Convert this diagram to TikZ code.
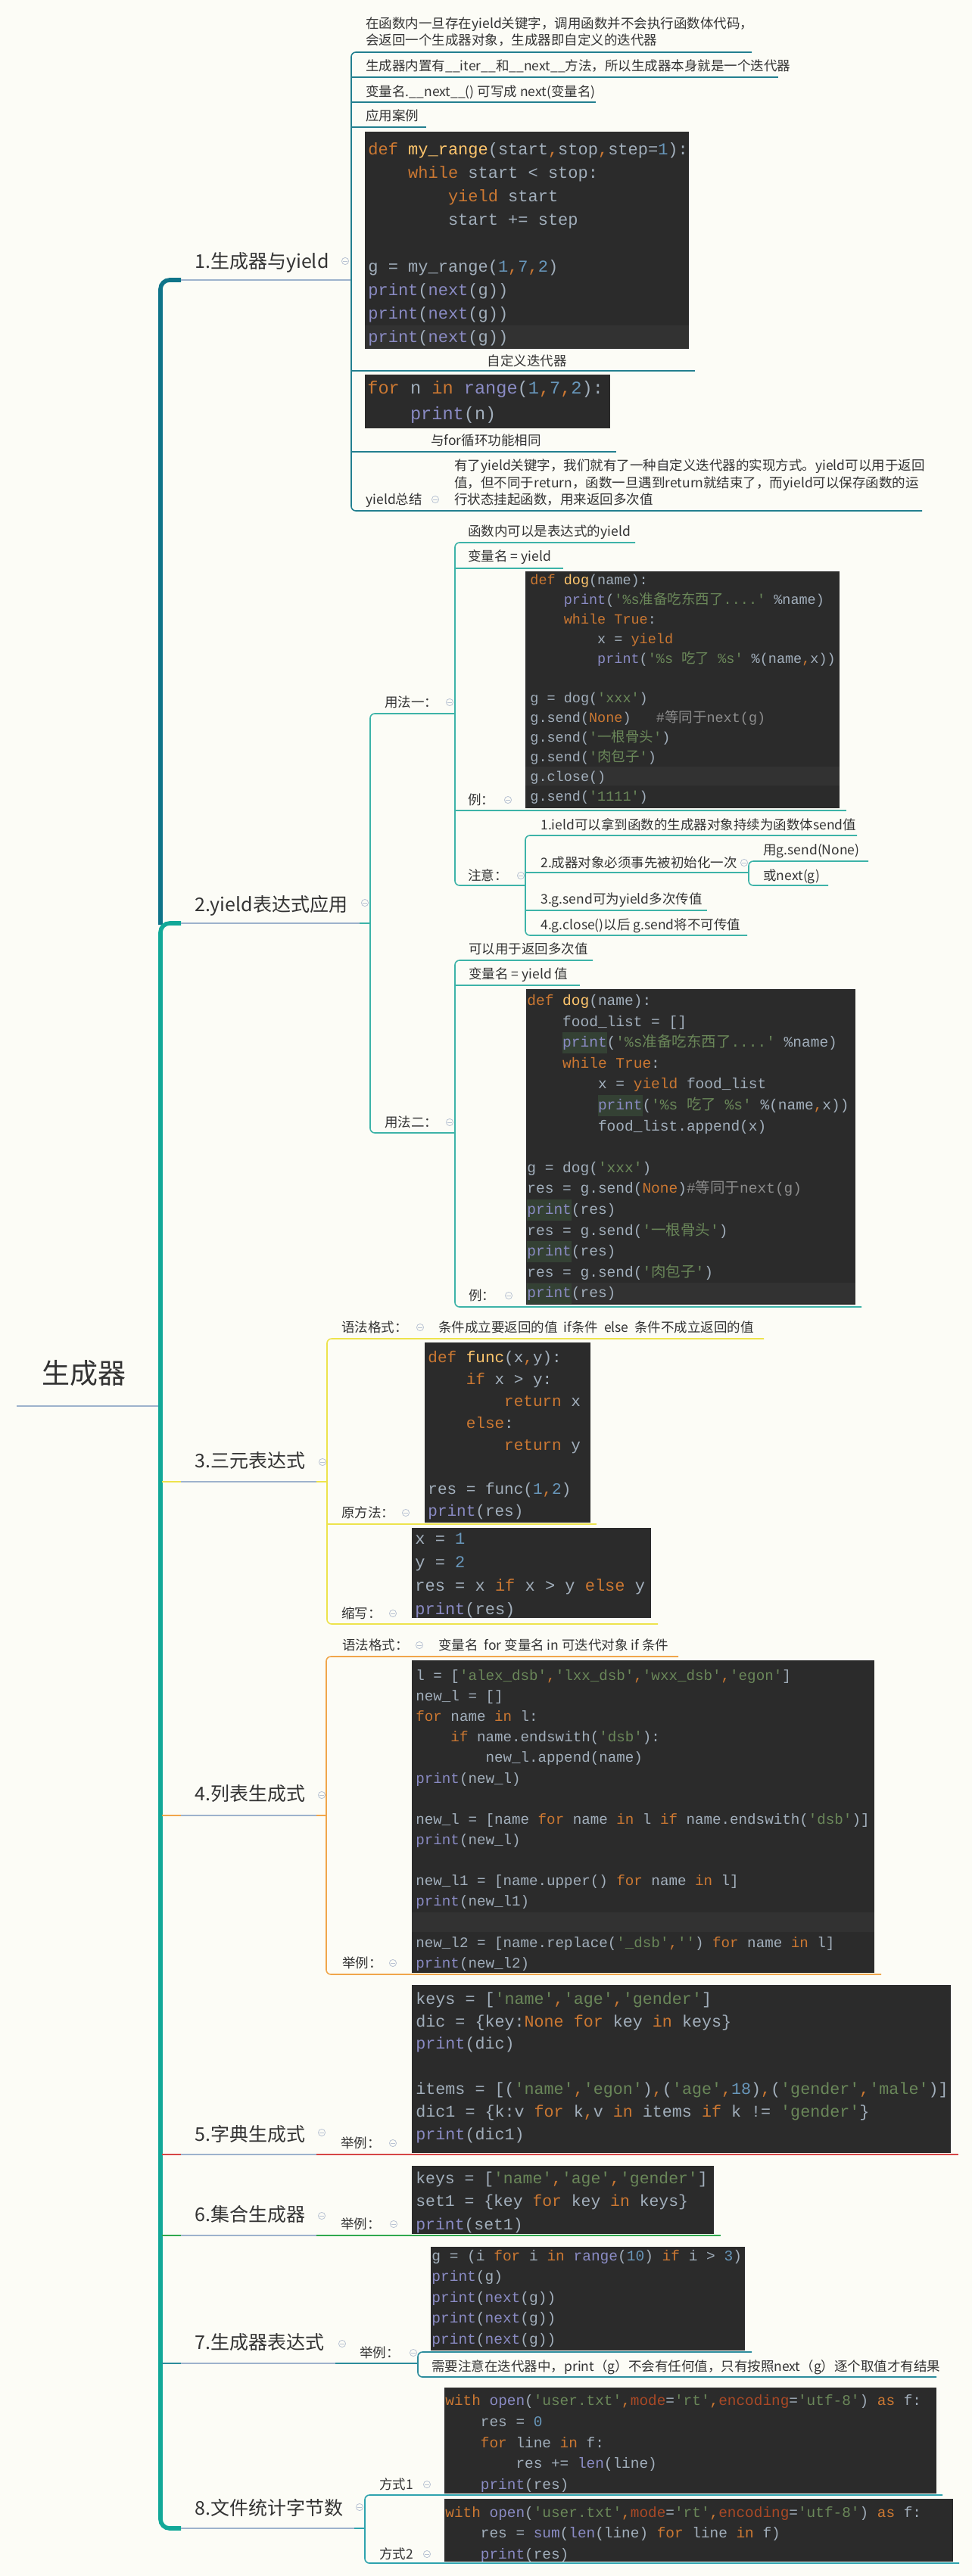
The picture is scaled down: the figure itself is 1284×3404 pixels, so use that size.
\documentclass[tikz,border=0pt]{standalone}
\usepackage{fontspec}
\setmainfont{Noto Sans CJK SC}
\newfontfamily\codefont[Ligatures=TeXOff]{Liberation Mono}
\frenchspacing
\definecolor{bgc}{HTML}{FCFCF6}
\definecolor{tcol}{HTML}{333333}
\definecolor{gray1}{HTML}{9DB2CC}
\definecolor{trA}{HTML}{0F7489}
\definecolor{trB}{HTML}{12A898}
\definecolor{sA}{HTML}{237F8F}
\definecolor{sB}{HTML}{3DB3A8}
\definecolor{sC}{HTML}{EDE34C}
\definecolor{sD}{HTML}{F0A64B}
\definecolor{sE}{HTML}{D64545}
\definecolor{sF}{HTML}{2FA84F}
\definecolor{sG}{HTML}{2C8C9C}
\definecolor{sH}{HTML}{2EA3AE}
\definecolor{icoc}{HTML}{B9C3D3}
\definecolor{codebg}{HTML}{2B2B2B}
\definecolor{codehl}{HTML}{323232}
\definecolor{ctext}{HTML}{A2AFBC}
\definecolor{ckw}{HTML}{CC7832}
\definecolor{cfn}{HTML}{FFC66D}
\definecolor{cnu}{HTML}{6897BB}
\definecolor{cst}{HTML}{6A8759}
\definecolor{cbi}{HTML}{8A8BC4}
\definecolor{ccm}{HTML}{8C8C8C}
\definecolor{cka}{HTML}{AA4926}
\definecolor{hlg}{HTML}{344134}
\newcommand\xkw[1]{\textcolor{ckw}{#1}}
\newcommand\xfn[1]{\textcolor{cfn}{#1}}
\newcommand\xnu[1]{\textcolor{cnu}{#1}}
\newcommand\xst[1]{\textcolor{cst}{#1}}
\newcommand\xbi[1]{\textcolor{cbi}{#1}}
\newcommand\xcm[1]{\textcolor{ccm}{#1}}
\newcommand\xka[1]{\textcolor{cka}{#1}}
\newcommand\cma{\textcolor{ckw}{,}}
\newcommand\zh[1]{{\rmfamily #1}}
\newcommand\indA{\hspace*{2.4em}}
\newcommand\indB{\hspace*{4.8em}}
\newcommand\hlp[1]{{\setlength\fboxsep{0pt}\colorbox{hlg}{\strut\xbi{#1}}}}
\newcommand\spine[6]{\draw[#1,rounded corners=3pt] (#4,#3) -- (#2,#3) -- (#2,#5) -- (#6,#5);}
\newcommand\uln[4]{\draw[#1] (#2,#3) -- (#4,#3);}
\newcommand\cicon[2]{\draw[icoc,fill=bgc,line width=0.4pt] (#1,#2) circle[radius=2.3pt]; \draw[icoc,line width=0.4pt] (#1,#2) ++(-1.3pt,0) -- ++(2.6pt,0);}
\tikzset{
  txt/.style={anchor=base west, inner sep=0pt, text=tcol, font=\fontsize{8.75}{11}\selectfont},
  ctxt/.style={anchor=base, inner sep=0pt, text=tcol, font=\fontsize{8.75}{11}\selectfont},
  topic/.style={anchor=base west, inner sep=0pt, text=tcol, font=\fontsize{12.5}{15}\selectfont},
  rootn/.style={anchor=base west, inner sep=0pt, text=tcol, font=\fontsize{18.5}{22}\selectfont},
  codetxt/.style={anchor=north west, inner sep=0pt, align=left, text=ctext},
  lA/.style={draw=sA, line width=0.8pt},
  lB/.style={draw=sB, line width=0.8pt},
  lC/.style={draw=sC, line width=0.8pt},
  lD/.style={draw=sD, line width=0.8pt},
  lE/.style={draw=sE, line width=0.8pt},
  lF/.style={draw=sF, line width=0.8pt},
  lG/.style={draw=sG, line width=0.8pt},
  lH/.style={draw=sH, line width=0.8pt},
  lT/.style={draw=gray1, line width=1pt},
}
\begin{document}
\begin{tikzpicture}[x=0.5pt,y=-0.5pt]
\useasboundingbox (0,0) rectangle (1284,3404);
\fill[bgc] (0,0) rectangle (1284,3404);

% ---------------- trunk ----------------
\draw[gray1, line width=1pt] (22,1858) -- (212,1858);
\draw[trA, line width=2.8pt, rounded corners=6pt] (212,1222) -- (212,370) -- (239,370);
\draw[trB, line width=2.8pt, rounded corners=6pt] (239,1220) -- (212,1220) -- (212,3341) -- (239,3341);
\draw[sC, line width=1pt] (214,1958) -- (239,1958);
\draw[sD, line width=1pt] (214,2399) -- (239,2399);
\draw[sE, line width=1pt] (214,2847) -- (239,2847);
\draw[sF, line width=1pt] (214,2954) -- (239,2954);
\draw[sG, line width=1pt] (214,3123) -- (239,3123);

% topic underlines
\uln{lT}{239}{370}{464}
\uln{lT}{239}{1220}{475}
\uln{lT}{239}{1958}{418}
\uln{lT}{239}{2399}{418}
\uln{lT}{239}{2847}{418}
\uln{lT}{239}{2954}{418}
\uln{lT}{239}{3123}{443}
\uln{lT}{239}{3341}{468}

% root and topics
\node[rootn] (root) at (55,1828) {生成器};
\node[topic] (t1) at (257,354) {1.生成器与yield};
\node[topic] (t2) at (257,1204) {2.yield表达式应用};
\node[topic] (t3) at (257,1939) {3.三元表达式};
\node[topic] (t4) at (257,2379) {4.列表生成式};
\node[topic] (t5) at (257,2829) {5.字典生成式};
\node[topic] (t6) at (257,2935) {6.集合生成器};
\node[topic] (t7) at (257,3104) {7.生成器表达式};
\node[topic] (t8) at (257,3323) {8.文件统计字节数};

% ---------------- section 1 ----------------
\spine{lA}{464}{69}{993}{675}{1218}
\uln{lA}{464}{102}{1028}
\uln{lA}{464}{135}{787}
\uln{lA}{464}{168}{563}
\uln{lA}{464}{490}{918}
\uln{lA}{464}{597}{814}

\node[txt] (a1) at (483,38) {在函数内一旦存在yield关键字，调用函数并不会执行函数体代码，};
\node[txt] (a1b) at (483,60) {会返回一个生成器对象，生成器即自定义的迭代器};
\node[txt] (a2) at (483,94) {生成器内置有\_\_iter\_\_和\_\_next\_\_方法，所以生成器本身就是一个迭代器};
\node[txt] (a3) at (483,127) {变量名.\_\_next\_\_() 可写成 next(变量名)};
\node[txt] (a4) at (483,160) {应用案例};

\fill[codebg] (482,174) rectangle (910,461);
\fill[codehl] (482,430) rectangle (910,461);
\node[codetxt, font=\codefont\fontsize{11}{15.5}\selectfont] (code1) at (486,182.3) {\strut\xkw{def} \xfn{my\_range}(start\cma stop\cma step=\xnu{1}):\\
\indA\xkw{while} start < stop:\\
\indB\xkw{yield} start\\
\indB start += step\\
\mbox{}\\
g = my\_range(\xnu{1}\cma\xnu{7}\cma\xnu{2})\\
\xbi{print}(\xbi{next}(g))\\
\xbi{print}(\xbi{next}(g))\\
\xbi{print}(\xbi{next}(g))};
\node[ctxt] (cap1) at (696,483) {自定义迭代器};

\fill[codebg] (482,495) rectangle (806,566);
\node[codetxt, font=\codefont\fontsize{11.8}{17}\selectfont] (code2) at (485,496.2) {\strut\xkw{for} n \xkw{in} \xbi{range}(\xnu{1}\cma\xnu{7}\cma\xnu{2}):\\
\indA\xbi{print}(n)};
\node[ctxt] (cap2) at (642,588) {与for循环功能相同};

\node[txt] (a5) at (483,666) {yield总结};
\node[txt] (a5a) at (600,621) {有了yield关键字，我们就有了一种自定义迭代器的实现方式。yield可以用于返回};
\node[txt] (a5b) at (600,644) {值，但不同于return，函数一旦遇到return就结束了，而yield可以保存函数的运};
\node[txt] (a5c) at (600,666) {行状态挂起函数，用来返回多次值};

% ---------------- section 2 ----------------
\uln{lB}{475}{1220}{489}
\spine{lB}{489}{943}{601}{1497}{601}
\spine{lB}{601}{717}{839}{1170}{694}
\uln{lB}{601}{751}{744}
\uln{lB}{601}{1071}{1118}
\spine{lB}{694}{1104}{1132}{1236}{987}
\uln{lB}{694}{1153}{989}
\uln{lB}{694}{1203}{934}
\spine{lB}{989}{1138}{1147}{1170}{1094}
\spine{lB}{601}{1269}{783}{1727}{1138}
\uln{lB}{601}{1302}{766}

\node[txt] (b1) at (508,934) {用法一：};
\node[txt] (b2) at (618,708) {函数内可以是表达式的yield};
\node[txt] (b3) at (618,741) {变量名 = yield};
\node[txt] (b4) at (618,1063) {例：};
\node[txt] (b5) at (618,1163) {注意：};
\node[txt] (b6) at (714,1096) {1.ield可以拿到函数的生成器对象持续为函数体send值};
\node[txt] (b7) at (714,1146) {2.成器对象必须事先被初始化一次};
\node[txt] (b8) at (1008,1129) {用g.send(None)};
\node[txt] (b9) at (1008,1163) {或next(g)};
\node[txt] (b10) at (714,1194) {3.g.send可为yield多次传值};
\node[txt] (b11) at (714,1228) {4.g.close()以后 g.send将不可传值};
\node[txt] (b12) at (508,1489) {用法二：};
\node[txt] (b13) at (619,1260) {可以用于返回多次值};
\node[txt] (b14) at (619,1293) {变量名 = yield 值};
\node[txt] (b15) at (619,1718) {例：};

\fill[codebg] (694,755) rectangle (1109,1068);
\fill[codehl] (694,1013) rectangle (1109,1038);
\node[codetxt, font=\codefont\fontsize{9.25}{13}\selectfont] (code3) at (700,754.3) {\strut\xkw{def} \xfn{dog}(name):\\
\indA\xbi{print}(\xst{'\%s\zh{准备吃东西了}....'} \%name)\\
\indA\xkw{while} \xkw{True}:\\
\indB x = \xkw{yield}\\
\indB\xbi{print}(\xst{'\%s \zh{吃了} \%s'} \%(name\cma x))\\
\mbox{}\\
g = dog(\xst{'xxx'})\\
g.send(\xkw{None})~~~\xcm{\#\zh{等同于}next(g)}\\
g.send(\xst{'\zh{一根骨头}'})\\
g.send(\xst{'\zh{肉包子}'})\\
g.close()\\
g.send(\xst{'1111'})};

\fill[codebg] (695,1307) rectangle (1130,1724);
\fill[codehl] (695,1695) rectangle (1130,1722);
\node[codetxt, font=\codefont\fontsize{9.75}{13.8}\selectfont] (code4) at (696,1308.7) {\strut\xkw{def} \xfn{dog}(name):\\
\indA food\_list = []\\
\indA\hlp{print}(\xst{'\%s\zh{准备吃东西了}....'} \%name)\\
\indA\xkw{while} \xkw{True}:\\
\indB x = \xkw{yield} food\_list\\
\indB\hlp{print}(\xst{'\%s \zh{吃了} \%s'} \%(name\cma x))\\
\indB food\_list.append(x)\\
\mbox{}\\
g = dog(\xst{'xxx'})\\
res = g.send(\xkw{None})\xcm{\#\zh{等同于}next(g)}\\
\hlp{print}(res)\\
res = g.send(\xst{'\zh{一根骨头}'})\\
\hlp{print}(res)\\
res = g.send(\xst{'\zh{肉包子}'})\\
\hlp{print}(res)};

% ---------------- section 3 ----------------
\uln{lC}{418}{1958}{432}
\spine{lC}{432}{1769}{1009}{2146}{869}
\uln{lC}{432}{2014}{788}
\node[txt] (c1) at (451,1760) {语法格式：};
\node[txt] (c2) at (579,1760) {条件成立要返回的值\ \ if条件\ \ else\ \ 条件不成立返回的值};
\node[txt] (c3) at (451,2005) {原方法：};
\node[txt] (c4) at (451,2138) {缩写：};

\fill[codebg] (561,1774) rectangle (780,2012);
\node[codetxt, font=\codefont\fontsize{10.5}{14.5}\selectfont] (code5) at (565,1779.7) {\strut\xkw{def} \xfn{func}(x\cma y):\\
\indA\xkw{if} x > y:\\
\indB\xkw{return} x\\
\indA\xkw{else}:\\
\indB\xkw{return} y\\
\mbox{}\\
res = func(\xnu{1}\cma\xnu{2})\\
\xbi{print}(res)};

\fill[codebg] (544,2019) rectangle (860,2138);
\node[codetxt, font=\codefont\fontsize{11}{15.5}\selectfont] (code6) at (548,2018.3) {\strut x = \xnu{1}\\
y = \xnu{2}\\
res = x \xkw{if} x > y \xkw{else} y\\
\xbi{print}(res)};

% ---------------- section 4 ----------------
\uln{lD}{418}{2399}{431}
\spine{lD}{431}{2189}{896}{2609}{1164}
\node[txt] (d1) at (452,2180) {语法格式：};
\node[txt] (d2) at (579,2180) {变量名\ \ for 变量名 in 可迭代对象 if 条件};
\node[txt] (d3) at (452,2600) {举例：};

\fill[codebg] (544,2194) rectangle (1155,2607);
\fill[codehl] (544,2527) rectangle (1155,2553);
\node[codetxt, font=\codefont\fontsize{9.6}{13.57}\selectfont] (code7) at (549,2201) {\strut l = [\xst{'alex\_dsb'}\cma\xst{'lxx\_dsb'}\cma\xst{'wxx\_dsb'}\cma\xst{'egon'}]\\
new\_l = []\\
\xkw{for} name \xkw{in} l:\\
\indA\xkw{if} name.endswith(\xst{'dsb'}):\\
\indB new\_l.append(name)\\
\xbi{print}(new\_l)\\
\mbox{}\\
new\_l = [name \xkw{for} name \xkw{in} l \xkw{if} name.endswith(\xst{'dsb'})]\\
\xbi{print}(new\_l)\\
\mbox{}\\
new\_l1 = [name.upper() \xkw{for} name \xkw{in} l]\\
\xbi{print}(new\_l1)\\
\mbox{}\\
new\_l2 = [name.replace(\xst{'\_dsb'}\cma\xst{''}) \xkw{for} name \xkw{in} l]\\
\xbi{print}(new\_l2)};

% ---------------- section 5 ----------------
\uln{lE}{418}{2847}{1266}
\node[txt] (e1) at (450,2838) {举例：};
\fill[codebg] (544,2623) rectangle (1256,2845);
\node[codetxt, font=\codefont\fontsize{10.85}{14.9}\selectfont] (code8) at (549,2627.1) {\strut keys = [\xst{'name'}\cma\xst{'age'}\cma\xst{'gender'}]\\
dic = \{key:\xkw{None} \xkw{for} key \xkw{in} keys\}\\
\xbi{print}(dic)\\
\mbox{}\\
items = [(\xst{'name'}\cma\xst{'egon'})\cma(\xst{'age'}\cma\xnu{18})\cma(\xst{'gender'}\cma\xst{'male'})]\\
dic1 = \{k:v \xkw{for} k\cma v \xkw{in} items \xkw{if} k != \xst{'gender'}\}\\
\xbi{print}(dic1)};

% ---------------- section 6 ----------------
\uln{lF}{418}{2954}{952}
\node[txt] (f1) at (450,2945) {举例：};
\fill[codebg] (544,2862) rectangle (943,2952);
\node[codetxt, font=\codefont\fontsize{10.7}{15.25}\selectfont] (code9) at (549,2863.65) {\strut keys = [\xst{'name'}\cma\xst{'age'}\cma\xst{'gender'}]\\
set1 = \{key \xkw{for} key \xkw{in} keys\}\\
\xbi{print}(set1)};

% ---------------- section 7 ----------------
\uln{lG}{443}{3123}{552}
\spine{lG}{552}{3108}{993}{3141}{1237}
\node[txt] (g1) at (475,3115) {举例：};
\fill[codebg] (569,2969) rectangle (984,3106);
\node[codetxt, font=\codefont\fontsize{9.75}{13.75}\selectfont] (code10) at (570,2967.75) {\strut g = (i \xkw{for} i \xkw{in} \xbi{range}(\xnu{10}) \xkw{if} i > \xnu{3})\\
\xbi{print}(g)\\
\xbi{print}(\xbi{next}(g))\\
\xbi{print}(\xbi{next}(g))\\
\xbi{print}(\xbi{next}(g))};
\node[txt] (g2) at (570,3133) {需要注意在迭代器中，print（g）不会有任何值，只有按照next（g）逐个取值才有结果};

% ---------------- section 8 ----------------
\uln{lH}{468}{3341}{482}
\spine{lH}{482}{3297}{1245}{3387}{1267}
\node[txt] (h1) at (501,3289) {方式1};
\node[txt] (h2) at (501,3381) {方式2};
\fill[codebg] (587,3155) rectangle (1237,3295);
\node[codetxt, font=\codefont\fontsize{9.7}{13.9}\selectfont] (code11) at (588,3158.5) {\strut\xkw{with} \xbi{open}(\xst{'user.txt'}\cma\xka{mode}=\xst{'rt'}\cma\xka{encoding}=\xst{'utf-8'}) \xkw{as} f:\\
\indA res = \xnu{0}\\
\indA\xkw{for} line \xkw{in} f:\\
\indB res += \xbi{len}(line)\\
\indA\xbi{print}(res)};
\fill[codebg] (587,3302) rectangle (1259,3385);
\node[codetxt, font=\codefont\fontsize{9.7}{13.75}\selectfont] (code12) at (588,3306.75) {\strut\xkw{with} \xbi{open}(\xst{'user.txt'}\cma\xka{mode}=\xst{'rt'}\cma\xka{encoding}=\xst{'utf-8'}) \xkw{as} f:\\
\indA res = \xbi{sum}(\xbi{len}(line) \xkw{for} line \xkw{in} f)\\
\indA\xbi{print}(res)};

% ---------------- collapse icons ----------------
\cicon{456}{345} \cicon{482}{1193} \cicon{426}{1932} \cicon{425}{2372}
\cicon{425}{2818} \cicon{425}{2928} \cicon{452}{3097} \cicon{475}{3313}
\cicon{575}{660} \cicon{594}{928} \cicon{671}{1057} \cicon{688}{1157}
\cicon{983}{1140} \cicon{594}{1483} \cicon{672}{1712} \cicon{555}{1754}
\cicon{536}{1999} \cicon{519}{2132} \cicon{554}{2174} \cicon{519}{2594}
\cicon{519}{2832} \cicon{520}{2939} \cicon{546}{3109} \cicon{564}{3283}
\cicon{564}{3375}
\end{tikzpicture}
\end{document}
